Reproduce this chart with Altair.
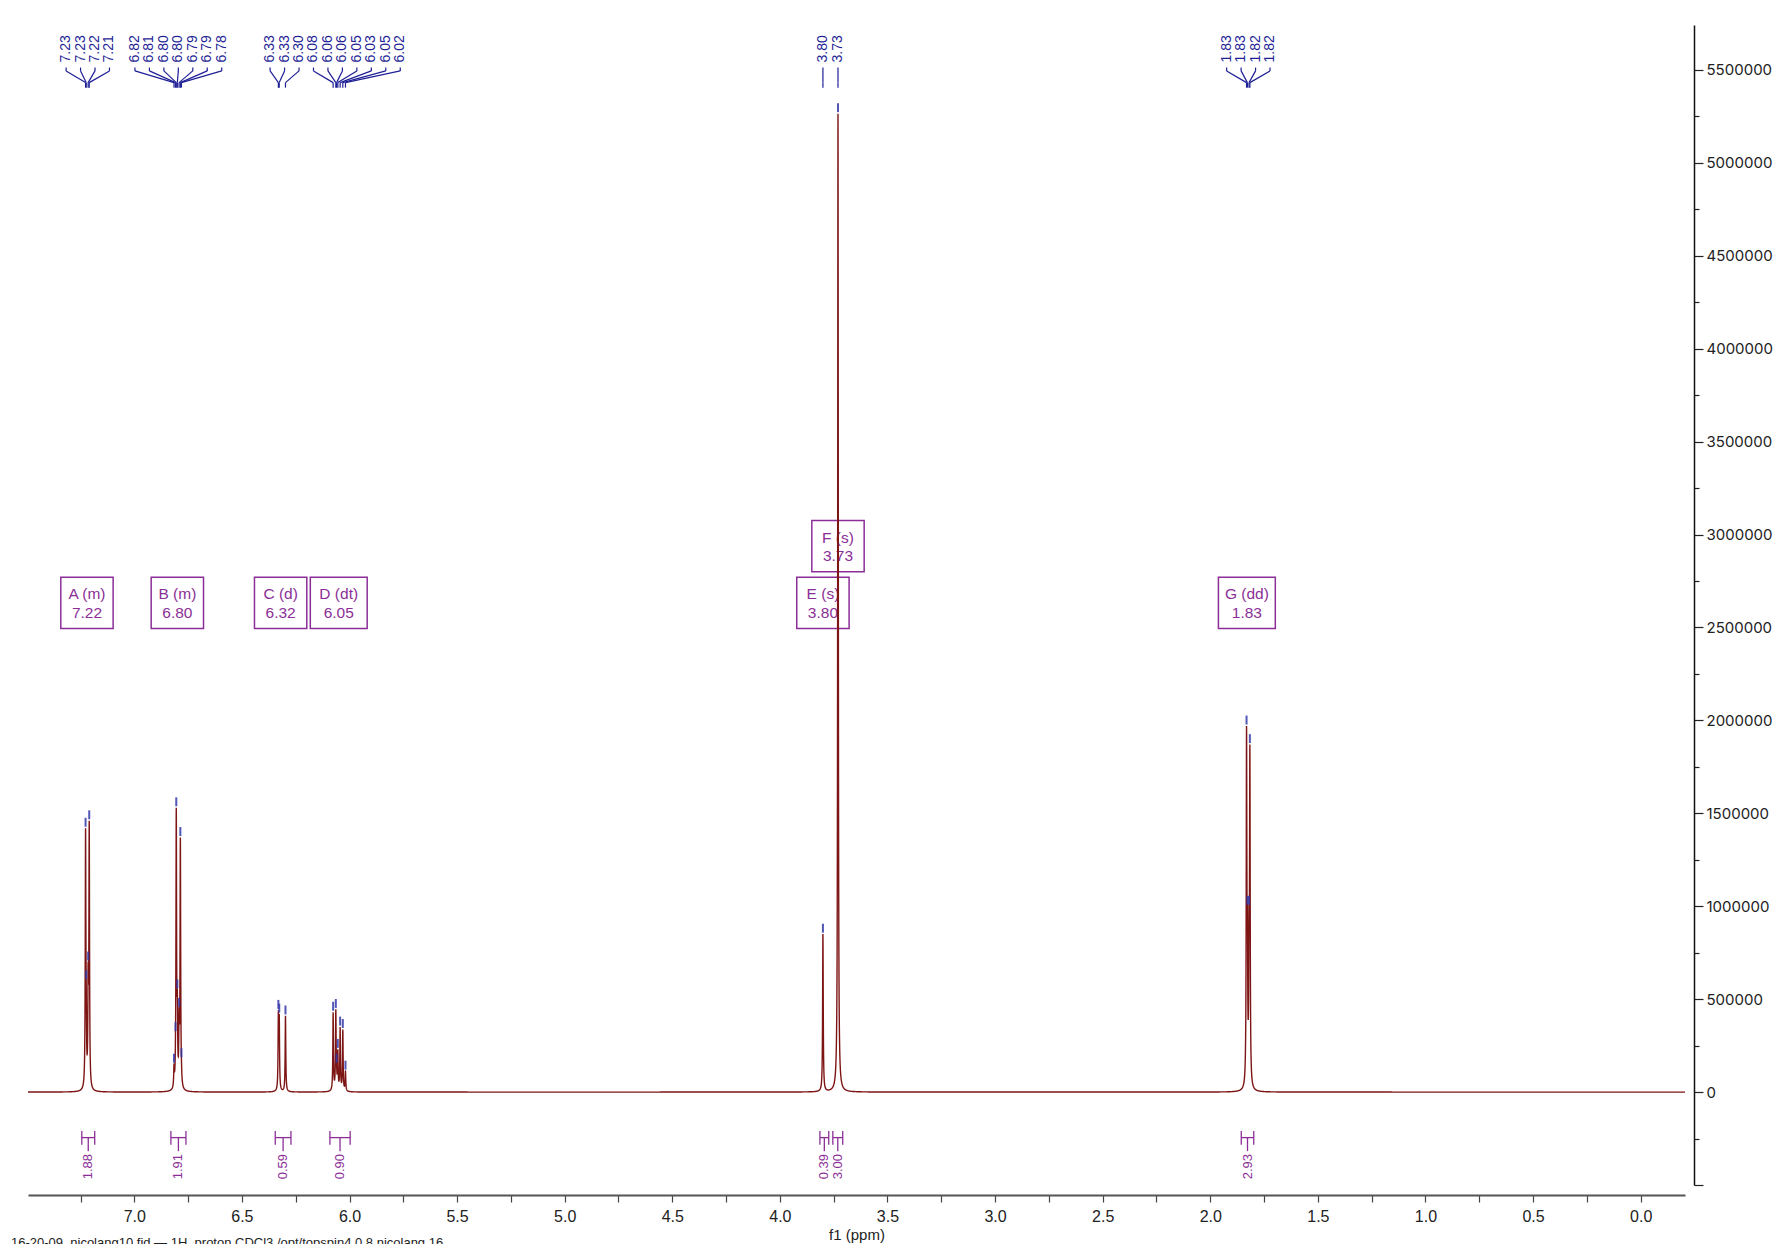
import altair as alt
import numpy as np
import pandas as pd

# ---------------- data ----------------
peak_label = ["7.23", "7.23", "7.22", "7.21",
              "6.82", "6.81", "6.80", "6.80", "6.79", "6.79", "6.78",
              "6.33", "6.33", "6.30",
              "6.08", "6.06", "6.06", "6.05", "6.03", "6.05", "6.02",
              "3.80", "3.73",
              "1.83", "1.83", "1.82", "1.82"]
peak_ppm = [7.2265, 7.2235, 7.2145, 7.2095,
            6.8155, 6.8085, 6.8050, 6.8000, 6.7920, 6.7860, 6.7810,
            6.3305, 6.3265, 6.2975,
            6.0760, 6.0636, 6.0600, 6.0543, 6.0435, 6.0311, 6.0187,
            3.800, 3.730,
            1.8315, 1.8275, 1.8200, 1.8160]
peak_top = [1420000, 600000, 700000, 1460000,
            150000, 320000, 1530000, 550000, 450000, 1370000, 180000,
            440000, 420000, 410000,
            430000, 445000, 150000, 230000, 350000, 337000, 113000,
            850000, 5265000,
            1970000, 1000000, 1000000, 1870000]

mult_name = ["A (m)", "B (m)", "C (d)", "D (dt)", "E (s)", "F (s)", "G (dd)"]
mult_shift = ["7.22", "6.80", "6.32", "6.05", "3.80", "3.73", "1.83"]
mult_row = [0, 0, 0, 0, 0, 1, 0]

int_from = [7.244, 6.830, 6.345, 6.091, 3.814, 3.754, 1.856]
int_to = [7.184, 6.760, 6.272, 5.997, 3.773, 3.708, 1.798]
int_value = ["1.88", "1.91", "0.59", "0.90", "0.39", "3.00", "2.93"]

footer = "16-20-09_nicolang10.fid — 1H_proton CDCl3 /opt/topspin4.0.8 nicolang 16"

# ---------------- layout / style constants ----------------
W, H = 1657, 1160
X_LO, X_HI = -0.206, 7.494
Y_LO, Y_HI = -500000, 5742000
GAMMA = 0.0017
RED = "#7E1515"
BLUE = "#1F1F96"
PURPLE = "#8B2F97"
label_clusters = [(7.317, 4), (6.997, 7), (6.369, 10), (3.800, 1), (3.730, 1), (1.924, 4)]
LABEL_STEP = 0.0672
PX_X = (X_HI - X_LO) / W      # ppm per pixel
PX_Y = (Y_HI - Y_LO) / H      # intensity per pixel

# ---------------- spectrum from peak list (Lorentzian lines) ----------------
pp = np.array(peak_ppm)
tt = np.array(peak_top, dtype=float)
K = GAMMA ** 2 / ((pp[:, None] - pp[None, :]) ** 2 + GAMMA ** 2)
amp = tt.copy()
for _ in range(800):
    amp = np.clip(amp + 0.5 * (tt - K @ amp), 0, None)


def spectrum(x):
    x = np.asarray(x, float)
    return (amp[None, :] * GAMMA ** 2 / ((x[:, None] - pp[None, :]) ** 2 + GAMMA ** 2)).sum(axis=1)


centres = [7.218, 6.798, 6.313, 6.047, 3.765, 1.824]
grid = [np.linspace(X_LO, X_HI, 1926), pp] + [np.arange(c - 0.08, c + 0.08, 0.00025) for c in centres]
xs = np.unique(np.round(np.concatenate(grid), 5))
spec_df = pd.DataFrame({"x": xs, "y": np.round(spectrum(xs), 1)})

top_at_peak = spectrum(pp)
mark_df = pd.DataFrame({"x": pp, "y": top_at_peak + 8000, "y2": top_at_peak + 56000})

# peak-label tree
label_x = []
for start, n in label_clusters:
    label_x += [start - k * LABEL_STEP for k in range(n)]
seg = []
for lx, p in zip(label_x, peak_ppm):
    seg.append((lx, lx, 5513000, 5495000))
    seg.append((lx, p, 5495000, 5432000))
    seg.append((p, p, 5432000, 5405000))
tree_df = pd.DataFrame(seg, columns=["x", "x2", "y", "y2"])
lab_df = pd.DataFrame({"x": label_x, "y": 5540000, "t": peak_label})

# multiplet boxes
box_rows = []
txt_rows = []
for name, sh, row in zip(mult_name, mult_shift, mult_row):
    c = float(sh)
    hw = (46 + 4 * (max(len(name), len(sh)) - 5)) / 189.14 / 2
    base = 2494000 + row * 306000
    box_rows.append((c + hw, c - hw, base, base + 276000))
    txt_rows.append((c, base + 184000, name))
    txt_rows.append((c, base + 86000, sh))
box_df = pd.DataFrame(box_rows, columns=["x", "x2", "y", "y2"])
boxtxt_df = pd.DataFrame(txt_rows, columns=["x", "y", "t"])

# integrals
iseg = []
itxt = []
for a, b, val in zip(int_from, int_to, int_value):
    m = (a + b) / 2
    iseg += [(a, a, -209000, -283000), (b, b, -209000, -283000),
             (a, b, -245000, -245000), (m, m, -245000, -318000)]
    itxt.append((m, -333000, val))
int_df = pd.DataFrame(iseg, columns=["x", "x2", "y", "y2"])
inttxt_df = pd.DataFrame(itxt, columns=["x", "y", "t"])

# footer line (partly cut by the window edge, as in the reference)
foot_df = pd.DataFrame({"x": [X_HI + 17 * PX_X], "y": [Y_HI - 1212 * PX_Y], "t": [footer]})

# ---------------- chart ----------------
xscale = alt.Scale(domain=[X_LO, X_HI], reverse=True, nice=False, zero=False)
yscale = alt.Scale(domain=[Y_LO, Y_HI], nice=False, zero=False)

x_axis = alt.Axis(values=[k * 0.25 for k in range(30)],
                  labelExpr="datum.value % 0.5 === 0 ? format(datum.value, '.1f') : ''",
                  offset=10, grid=False, domainColor="#555555", domainWidth=2,
                  tickColor="#444444", tickSize=7, tickWidth=1.2,
                  labelFont="Liberation Sans Narrow, Liberation Sans", labelFontSize=16,
                  labelColor="#222222", labelPadding=6,
                  titleFont="Liberation Sans Narrow, Liberation Sans", titleFontSize=15,
                  titleFontWeight="normal", titleColor="#222222", titlePadding=3)
y_axis = alt.Axis(orient="right", values=[-500000 + 250000 * k for k in range(25)],
                  labelExpr="datum.value < 0 || datum.value % 500000 !== 0 ? '' : format(datum.value, 'd')",
                  offset=9, grid=False, domainColor="#111111", domainWidth=1.5,
                  tickColor="#222222",
                  tickSize={"condition": {"test": "datum.value % 500000 === 0", "value": 9}, "value": 5},
                  tickWidth=1.2,
                  labelFont="Inter", labelFontSize=15, labelColor="#222222", labelPadding=3)

ENC_X = alt.X("x:Q", scale=xscale, axis=x_axis, title="f1 (ppm)")
ENC_Y = alt.Y("y:Q", scale=yscale, axis=y_axis, title=None)

boxes = alt.Chart(box_df).mark_rect(fill="white", fillOpacity=0, stroke=PURPLE, strokeWidth=1.5).encode(
    x=ENC_X, x2="x2", y=ENC_Y, y2="y2")
boxtxt = alt.Chart(boxtxt_df).mark_text(font="Liberation Sans", fontSize=15.5, color=PURPLE,
                                        align="center", baseline="middle").encode(
    x=ENC_X, y=ENC_Y, text="t:N")
integ = alt.Chart(int_df).mark_rule(color=PURPLE, strokeWidth=1.3).encode(
    x=ENC_X, x2="x2", y=ENC_Y, y2="y2")
integtxt = alt.Chart(inttxt_df).mark_text(font="Liberation Sans", fontSize=13, color=PURPLE,
                                          angle=270, align="right", baseline="middle").encode(
    x=ENC_X, y=ENC_Y, text="t:N")
tree = alt.Chart(tree_df).mark_rule(color=BLUE, strokeWidth=1.2).encode(
    x=ENC_X, x2="x2", y=ENC_Y, y2="y2")
labels = alt.Chart(lab_df).mark_text(font="Liberation Sans", fontSize=14, color=BLUE,
                                     angle=270, align="left", baseline="middle").encode(
    x=ENC_X, y=ENC_Y, text="t:N")
spec = alt.Chart(spec_df).mark_line(color=RED, strokeWidth=1.4).encode(x=ENC_X, y=ENC_Y)
markers = alt.Chart(mark_df).mark_rule(color="#3438A8", strokeWidth=2, opacity=0.85).encode(
    x=ENC_X, y=ENC_Y, y2="y2")
foot = alt.Chart(foot_df).mark_text(font="Liberation Sans", fontSize=13, color="#222222",
                                    align="left", baseline="top").encode(
    x=ENC_X, y=ENC_Y, text="t:N")

chart = alt.layer(boxes, boxtxt, integ, integtxt, tree, labels, spec, markers, foot).properties(
    width=W, height=H,
    autosize=alt.AutoSizeParams(type="none"),
    padding={"left": 20, "top": 17, "right": 91, "bottom": 59},
    background="white",
).configure_view(strokeWidth=0)

chart.save("out.html", embed_options={"renderer": "svg", "actions": False})
